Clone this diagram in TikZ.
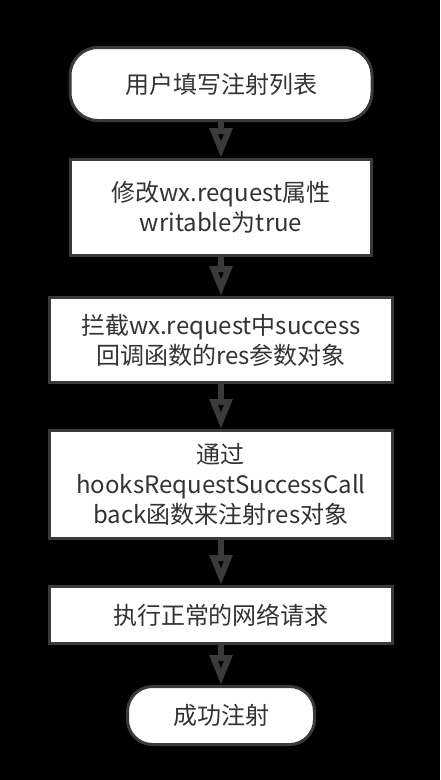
\documentclass[tikz,border=0pt]{standalone}
\usepackage{fontspec}
\setmainfont{Noto Sans CJK SC}
\usetikzlibrary{positioning, arrows.meta}
\definecolor{edgegray}{HTML}{3A3A3A}
\definecolor{textgray}{HTML}{333333}

\begin{document}
\begin{tikzpicture}[x=1pt, y=1pt, node distance=38pt,
	every node/.style={font=\fontsize{24}{30}\selectfont, text=textgray, align=center},
	terminal/.style={draw=edgegray, fill=white, line width=3pt, rounded corners=28pt, minimum height=73pt},
	stepbox/.style={draw=edgegray, fill=white, line width=3pt, minimum width=343pt},
	flow/.style={-{Triangle[width=22pt,length=30pt]}, draw=edgegray, line width=6pt}]
		\fill[black] (0,0) rectangle (440,-780);
		\useasboundingbox (0,0) rectangle (440,-780);
		
		\node[terminal, minimum width=302pt] (1) at (221,-84) {用户填写注射列表};
		\node[stepbox, minimum width=301pt, minimum height=96pt] (2) [below=36pt of 1] {修改wx.request属性\\writable为true};
		\node[stepbox, minimum height=85pt] (3) [below=39pt of 2] {拦截wx.request中success\\回调函数的res参数对象};
		\node[stepbox, minimum height=108pt] (4) [below=45pt of 3] {通过\\hooksRequestSuccessCall\\back函数来注射res对象};
		\node[stepbox, minimum height=57pt] (5) [below=45pt of 4] {执行正常的网络请求};
		\node[terminal, minimum width=187pt, minimum height=58pt, rounded corners=25pt] (6) [below=40pt of 5] {成功注射};
		
		\path[flow]
		(1) edge (2)
		(2) edge (3)
		(3) edge (4)
		(4) edge (5)
		(5) edge (6);
	\end{tikzpicture}
\end{document}
